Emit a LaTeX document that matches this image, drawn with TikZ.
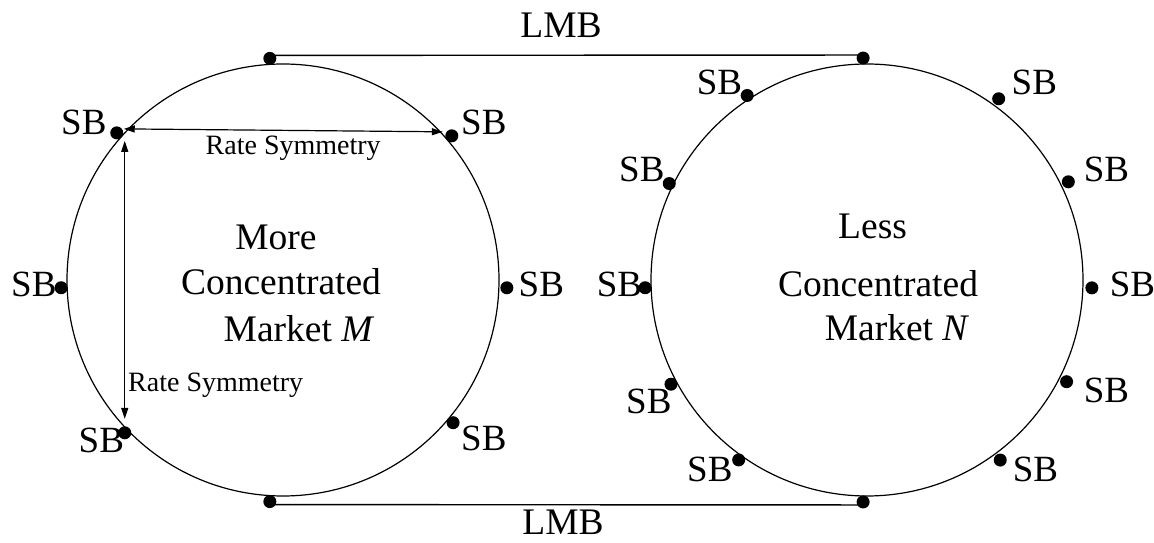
\documentclass[tikz,border=0pt]{standalone}
\usepackage{fontspec}
\setmainfont{Liberation Serif}
\usetikzlibrary{arrows.meta}
\begin{document}
\begin{tikzpicture}[x=1pt,y=1pt,
  ring/.style={circle,draw,line width=1.2pt,minimum size=432pt,inner sep=0pt},
  sbdot/.style={circle,fill,minimum size=13pt,inner sep=0pt},
  sb/.style={anchor=base west,inner sep=0pt,font=\fontsize{37}{40}\selectfont},
  big/.style={anchor=base,inner sep=0pt,font=\fontsize{37.5}{40}\selectfont},
  small/.style={anchor=base west,inner sep=0pt,font=\fontsize{28}{30}\selectfont},
  link/.style={line width=1.4pt},
  arr/.style={line width=1.2pt,{Triangle[length=11pt,width=7pt]}-{Triangle[length=11pt,width=7pt]}}]
\useasboundingbox (0,0) rectangle (1154,543);
% markets
\node[ring] (M) at (283,263) {};
\node[ring] (N) at (867,263) {};
% dots on M
\path (M.center) ++(138.5:222) node[sbdot] (m1) {};
\path (M.center) ++(40.5:222)  node[sbdot] (m2) {};
\path (M.center) ++(182:222)   node[sbdot] (m3) {};
\path (M.center) ++(-2:224)    node[sbdot] (m4) {};
\path (M.center) ++(-136:220)  node[sbdot] (m5) {};
\path (M.center) ++(-40:222)   node[sbdot] (m6) {};
\path (M.center) ++(93.4:222)  node[sbdot] (mt) {};
\path (M.center) ++(-93.4:222) node[sbdot] (mb) {};
% dots on N
\path (N.center) ++(123:220)   node[sbdot] (n1) {};
\path (N.center) ++(154:220)   node[sbdot] (n2) {};
\path (N.center) ++(54:224)    node[sbdot] (n3) {};
\path (N.center) ++(26:224)    node[sbdot] (n4) {};
\path (N.center) ++(182:222)   node[sbdot] (n5) {};
\path (N.center) ++(-2:225)    node[sbdot] (n6) {};
\path (N.center) ++(-152:222)  node[sbdot] (n7) {};
\path (N.center) ++(-125.5:221) node[sbdot] (n8) {};
\path (N.center) ++(-27:224)   node[sbdot] (n9) {};
\path (N.center) ++(-53.5:224) node[sbdot] (n10) {};
\path (N.center) ++(91:222)    node[sbdot] (nt) {};
\path (N.center) ++(-91:222)   node[sbdot] (nb) {};
% LMB links
\draw[link] ([yshift=3pt]mt.center) -- ([yshift=3pt]nt.center);
\draw[link] ([yshift=-3pt]mb.center) -- ([yshift=-3pt]nb.center);
\node[big] (lmbt) at (561,505) {LMB};
\node[big] (lmbb) at (563,8) {LMB};
% SB labels on M
\node[sb] (sm1) at (61,408) {SB};
\node[sb] (sm2) at (461,408) {SB};
\node[sb] (sm3) at (11,246.3) {SB};
\node[sb] (sm4) at (518.5,246.3) {SB};
\node[sb] (sm5) at (78.5,90) {SB};
\node[sb] (sm6) at (461,92) {SB};
% SB labels on N
\node[sb] (sn1) at (696.7,448) {SB};
\node[sb] (sn2) at (619,361.3) {SB};
\node[sb] (sn3) at (1011.5,448) {SB};
\node[sb] (sn4) at (1083.7,361.3) {SB};
\node[sb] (sn5) at (596.7,246.3) {SB};
\node[sb] (sn6) at (1109.6,246.3) {SB};
\node[sb] (sn7) at (626,129) {SB};
\node[sb] (sn8) at (687,61) {SB};
\node[sb] (sn9) at (1083.7,140) {SB};
\node[sb] (sn10) at (1012.6,61) {SB};
% market texts
\node[big] (ma) at (276,293) {More};
\node[big] (mb2) at (281,248) {Concentrated};
\node[big] (mc) at (299,201) {Market \textit{M}};
\node[big] (na) at (872.6,304) {Less};
\node[big] (nb2) at (878,246) {Concentrated};
\node[big] (nc) at (897,202) {Market \textit{N}};
% rate symmetry arrows
\coordinate (ha) at ([shift={(7,4)}]m1.center);
\coordinate (hb) at ([shift={(-9,4)}]m2.center);
\draw[arr] (ha) -- (hb);
\node[small] (rs1) at (205.5,388) {Rate Symmetry};
\coordinate (va) at ([shift={(8,-8)}]m1.center);
\coordinate (vb) at (va |- m5.center);
\draw[arr] (va) -- ([yshift=14pt]vb);
\node[small] (rs2) at (128,151.3) {Rate Symmetry};
\end{tikzpicture}
\end{document}
